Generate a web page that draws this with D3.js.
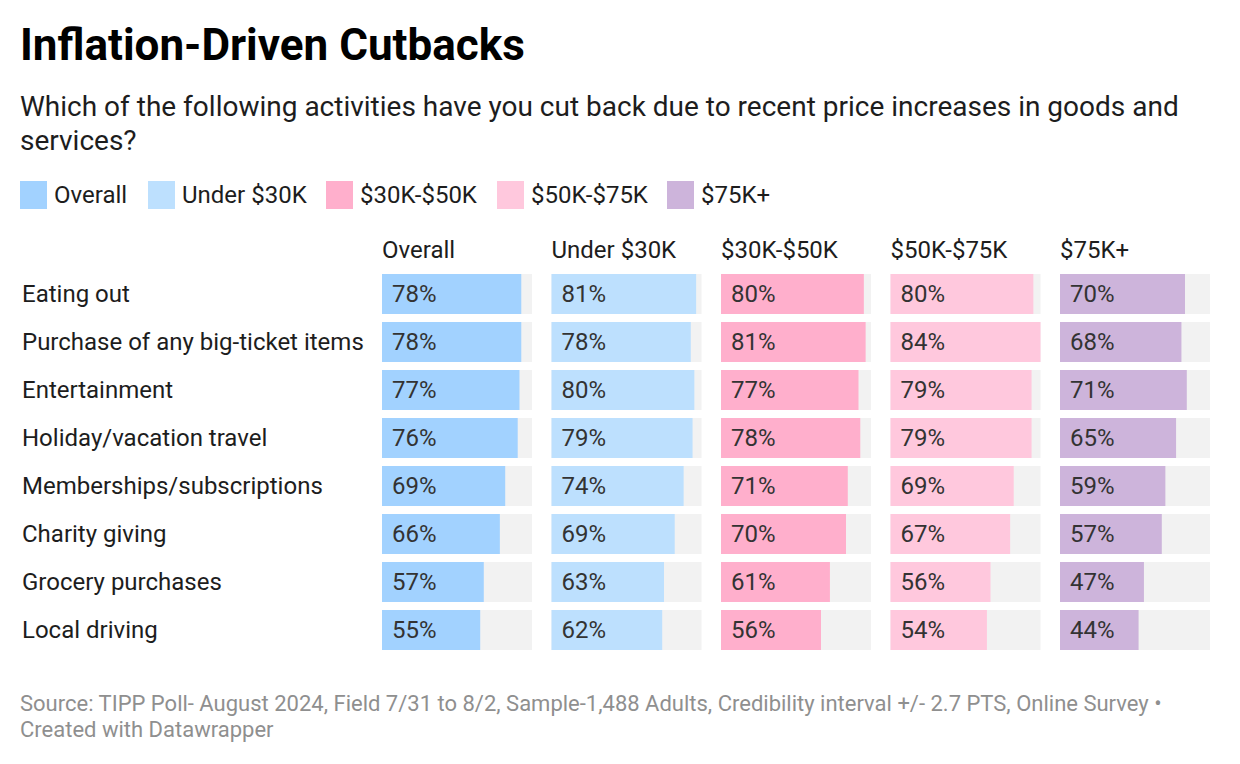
<!DOCTYPE html>
<html>
<head>
<meta charset="utf-8">
<script src="https://cdn.jsdelivr.net/npm/d3@7"></script>
<style>
  body { margin: 0; background: #fff; }
  svg { display: block; font-family: Roboto, "Noto Sans", sans-serif; }
</style>
</head>
<body>
<svg id="chart" width="1240" height="764"></svg>
<script>
(function () {

    var categories = [
        'Eating out',
        'Purchase of any big-ticket items',
        'Entertainment',
        'Holiday/vacation travel',
        'Memberships/subscriptions',
        'Charity giving',
        'Grocery purchases',
        'Local driving'
    ];

    var groups = ['Overall', 'Under $30K', '$30K-$50K', '$50K-$75K', '$75K+'];
    var colors = ['#a2d2ff', '#bde0fe', '#ffafcc', '#ffc8dd', '#cdb4db'];

    var overall  = [78, 78, 77, 76, 69, 66, 57, 55];
    var under30  = [81, 78, 80, 79, 74, 69, 63, 62];
    var k30to50  = [80, 81, 77, 78, 71, 70, 61, 56];
    var k50to75  = [80, 84, 79, 79, 69, 67, 56, 54];
    var k75plus  = [70, 68, 71, 65, 59, 57, 47, 44];

    var series = [overall, under30, k30to50, k50to75, k75plus];

    var svg = d3.select('#chart');

    /**
     * header
     */
    svg.append('text')
        .attr('x', 20).attr('y', 60)
        .style('font-size', '44px').style('font-weight', 700).style('fill', '#000')
        .text('Inflation-Driven Cutbacks');

    var subtitle = svg.append('text')
        .style('font-size', '28px').style('fill', '#1d1d1d');
    subtitle.append('tspan').attr('x', 20).attr('y', 116)
        .text('Which of the following activities have you cut back due to recent price increases in goods and');
    subtitle.append('tspan').attr('x', 20).attr('y', 150)
        .text('services?');

    /**
     * legend
     */
    var legendX = [20, 148, 326, 497, 667];
    var legend = svg.selectAll('.legend')
        .data(groups)
        .enter().append('g')
        .attr('class', 'legend')
        .attr('transform', function (d, i) {
            return 'translate(' + legendX[i] + ',181)';
        });

    legend.append('rect')
        .attr('width', 27).attr('height', 28)
        .style('fill', function (d, i) { return colors[i]; });

    legend.append('text')
        .attr('x', 34).attr('y', 22)
        .style('font-size', '24px').style('fill', '#1d1d1d')
        .text(function (d) { return d; });

    /**
     * scales
     */
    var x = d3.scaleBand().domain(groups).range([382, 1210]).paddingInner(0.115);
    var y = d3.scaleBand().domain(categories).range([274, 650]).paddingInner(1 / 6);
    var w = d3.scaleLinear().domain([0, 84]).range([0, x.bandwidth()]);

    /**
     * column headers
     */
    svg.selectAll('.colhead')
        .data(groups)
        .enter().append('text')
        .attr('class', 'colhead')
        .attr('x', function (d) { return x(d); })
        .attr('y', 258)
        .style('font-size', '24px').style('fill', '#1d1d1d')
        .text(function (d) { return d; });

    /**
     * row labels
     */
    svg.selectAll('.rowlabel')
        .data(categories)
        .enter().append('text')
        .attr('class', 'rowlabel')
        .attr('x', 22)
        .attr('y', function (d) { return y(d) + y.bandwidth() / 2; })
        .attr('dy', '.35em')
        .style('font-size', '24px').style('fill', '#1d1d1d')
        .text(function (d) { return d; });

    /**
     * bars per column
     */
    groups.forEach(function (g, gi) {
        var col = svg.append('g').attr('class', 'column');
        var rows = col.selectAll('g')
            .data(series[gi])
            .enter().append('g')
            .attr('transform', function (d, i) {
                return 'translate(' + x(g) + ',' + y(categories[i]) + ')';
            });

        rows.append('rect')
            .attr('width', x.bandwidth())
            .attr('height', y.bandwidth())
            .style('fill', '#f2f2f2');

        rows.append('rect')
            .attr('width', function (d) { return w(d); })
            .attr('height', y.bandwidth())
            .style('fill', colors[gi]);

        rows.append('text')
            .attr('x', 10)
            .attr('y', y.bandwidth() / 2)
            .attr('dy', '.33em')
            .style('font-size', '24px').style('fill', '#333')
            .text(function (d) { return d + '%'; });
    });

    /**
     * footer
     */
    var footer = svg.append('text')
        .style('font-size', '22px').style('fill', '#8f8f8f');
    footer.append('tspan').attr('x', 20).attr('y', 711)
        .text('Source: TIPP Poll- August 2024, Field 7/31 to 8/2, Sample-1,488 Adults, Credibility interval +/- 2.7 PTS, Online Survey \u2022');
    footer.append('tspan').attr('x', 20).attr('y', 737)
        .text('Created with Datawrapper');
})();
</script>
</body>
</html>
